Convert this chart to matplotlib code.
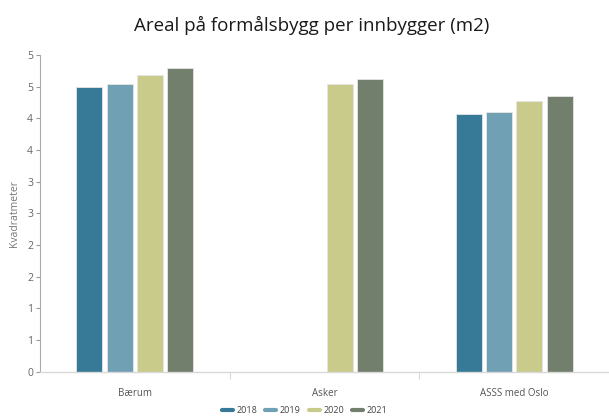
import numpy as np
import matplotlib.pyplot as plt
from matplotlib.lines import Line2D

plt.rcParams['font.family'] = ['Open Sans', 'DejaVu Sans']

# Areal per innbygger, kvadratmeter
categories = ['Bærum', 'Asker', 'ASSS med Oslo']
years = ['2018', '2019', '2020', '2021']
v2018 = [4.50, np.nan, 4.07]
v2019 = [4.54, np.nan, 4.10]
v2020 = [4.68, 4.54, 4.28]
v2021 = [4.79, 4.62, 4.36]
y_ticks = [0, 0.5, 1, 1.5, 2, 2.5, 3, 3.5, 4, 4.5, 5]
y_ticklabels = ['0', '1', '1', '2', '2', '3', '3', '4', '4', '5', '5']

colors = ['#367a98', '#6fa0b3', '#c9cb8b', '#727f6c']
series = [v2018, v2019, v2020, v2021]

fig = plt.figure(figsize=(6.09, 4.18), dpi=100)
ax = fig.add_axes([0.0657, 0.111, 0.9343, 0.757])

x = np.arange(len(categories))
step = 0.16
width = 0.137
for i, (vals, col) in enumerate(zip(series, colors)):
    ax.bar(x + (i - 1.5) * step, vals, width=width, color=col,
           edgecolor='#e6e6e6', linewidth=0.6, zorder=2)

ax.set_xlim(-0.5, 2.5)
ax.set_ylim(0, 5)
ax.set_yticks(y_ticks)
ax.set_yticklabels(y_ticklabels)
ax.set_xticks(x)
ax.set_xticklabels(categories)
ax.set_xticks([0.5, 1.5], minor=True)

ax.tick_params(axis='x', which='major', length=0, pad=12, labelsize=7, labelcolor='#555555')
ax.tick_params(axis='x', which='minor', length=5, color='#d8d8d8', width=0.8)
ax.tick_params(axis='y', length=3, color='#999999', width=0.8, pad=2,
               labelsize=7.5, labelcolor='#666666')

for side in ['top', 'right']:
    ax.spines[side].set_visible(False)
ax.spines['left'].set_color('#aaaaaa')
ax.spines['left'].set_linewidth(0.8)
ax.spines['bottom'].set_color('#d8d8d8')
ax.spines['bottom'].set_linewidth(1.0)

ax.set_ylabel('Kvadratmeter', fontsize=7.5, color='#777777', labelpad=5)

fig.text(0.512, 0.94, 'Areal på formålsbygg per innbygger (m2)', ha='center', va='center',
         fontsize=13.5, fontweight='medium', color='#1a1a1a')

handles = [Line2D([0], [0], color=c, lw=3, solid_capstyle='round') for c in colors]
fig.legend(handles, years, loc='center', bbox_to_anchor=(0.5, 0.018), ncol=4,
           frameon=False, fontsize=6.5, handlelength=1.2, handletextpad=0.4,
           columnspacing=0.9, labelcolor='#444444')

fig.savefig('out.png', dpi=100)
